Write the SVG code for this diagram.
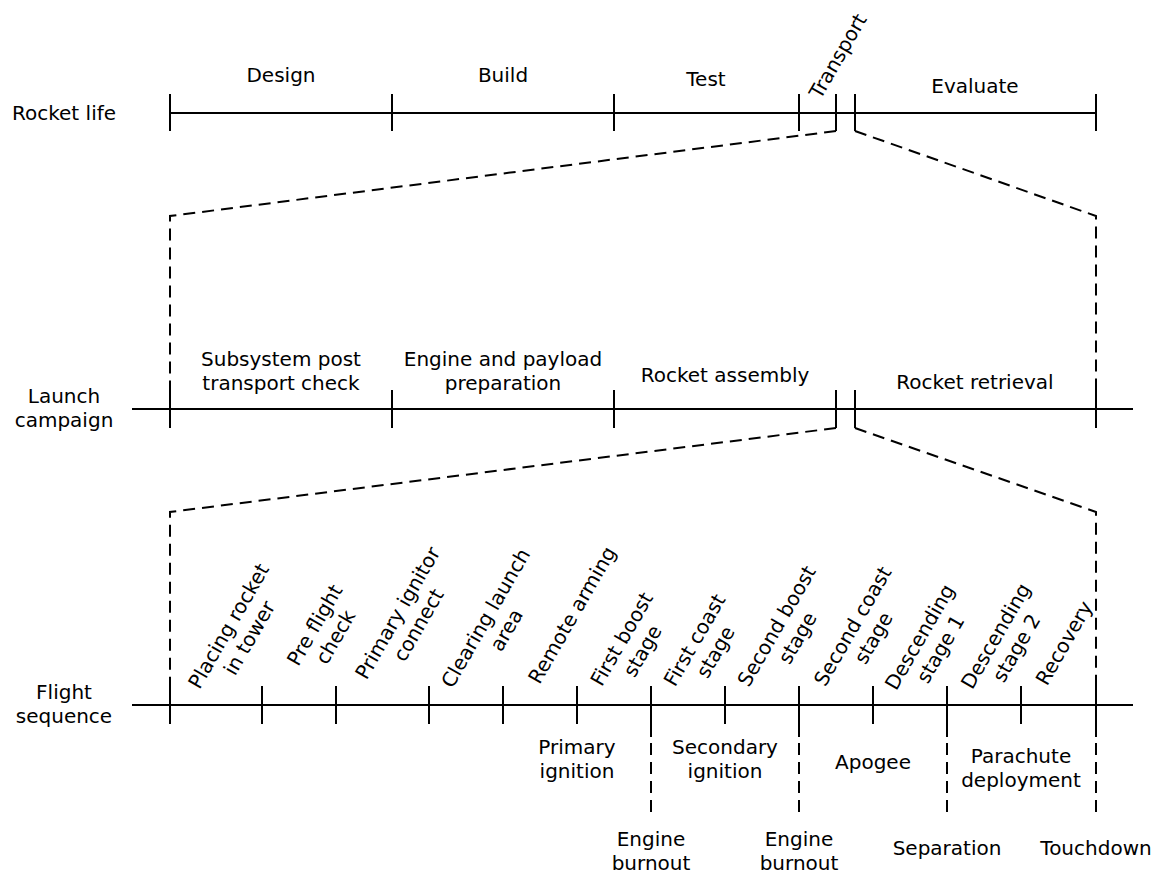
<svg xmlns="http://www.w3.org/2000/svg" width="1162" height="874" viewBox="0 0 1162 874">
<style>
text{font-family:"DejaVu Sans","Liberation Sans",sans-serif;font-size:20px;fill:#000;}
.c{text-anchor:middle;}
.ln{stroke:#000;stroke-width:2;fill:none;}
.dash{stroke:#000;stroke-width:2;fill:none;stroke-dasharray:12 7;}
</style>
<rect width="1162" height="874" fill="#fff"/>
<g id="connectors">
  <line class="ln" x1="170" y1="113" x2="1096" y2="113"/>
  <path class="ln" d="M170 94V131M392 94V131M614 94V131M799 94V131M836 94V131M855 94V131M1096 94V131"/>
  <path class="dash" d="M836 131L170 216V390"/>
  <path class="dash" d="M855 131L1096 216V390"/>
  <line class="ln" x1="132" y1="409" x2="1133" y2="409"/>
  <path class="ln" d="M170 390V428M392 390V428M614 390V428M836 390V428M855 390V428M1096 390V428"/>
  <path class="dash" d="M836 428L170 512V686"/>
  <path class="dash" d="M855 428L1096 512V686"/>
  <line class="ln" x1="132" y1="705" x2="1133" y2="705"/>
  <path class="ln" d="M170 686V724M262 686V724M336 686V724M429 686V724M503 686V724M577 686V724M651 686V724M725 686V724M799 686V724M873 686V724M947 686V724M1021 686V724M1096 686V724"/>
  <path class="ln" d="M651 724V737M799 724V737M947 724V737M1096 724V737"/>
  <path class="dash" d="M651 743V818M799 743V818M947 743V818M1096 743V818"/>
</g>
<g id="row-labels">
  <text x="64" y="120" class="c">Rocket life</text>
  <text class="c"><tspan x="64" y="403">Launch</tspan><tspan x="64" y="427">campaign</tspan></text>
  <text class="c"><tspan x="64" y="699">Flight</tspan><tspan x="64" y="723">sequence</tspan></text>
</g>
<g id="rocket-life">
  <g id="design"><text x="281" y="82" class="c">Design</text></g>
  <g id="build"><text x="503" y="82" class="c">Build</text></g>
  <g id="test"><text x="706" y="86" class="c">Test</text></g>
  <g id="transport"><text class="c" transform="translate(838,56) rotate(-60)" y="7">Transport</text></g>
  <g id="evaluate"><text x="975" y="93" class="c">Evaluate</text></g>
</g>
<g id="launch-campaign">
  <g id="subsystem"><text class="c"><tspan x="281" y="366">Subsystem post</tspan><tspan x="281" y="390">transport check</tspan></text></g>
  <g id="engine-payload"><text class="c"><tspan x="503" y="366">Engine and payload</tspan><tspan x="503" y="390">preparation</tspan></text></g>
  <g id="assembly"><text x="725" y="382" class="c">Rocket assembly</text></g>
  <g id="retrieval"><text x="975" y="389" class="c">Rocket retrieval</text></g>
</g>
<g id="flight-phases">
  <g id="placing"><text class="c" transform="translate(239,632) rotate(-60)"><tspan x="0" y="-5">Placing rocket</tspan><tspan x="0" y="19">in tower</tspan></text></g>
  <g id="preflight"><text class="c" transform="translate(325,631) rotate(-60)"><tspan x="0" y="-5">Pre flight</tspan><tspan x="0" y="19">check</tspan></text></g>
  <g id="ignitor"><text class="c" transform="translate(408,619) rotate(-60)"><tspan x="0" y="-5">Primary ignitor</tspan><tspan x="0" y="19">connect</tspan></text></g>
  <g id="clearing"><text class="c" transform="translate(496,624) rotate(-60)"><tspan x="0" y="-5">Clearing launch</tspan><tspan x="0" y="19">area</tspan></text></g>
  <g id="arming"><text class="c" transform="translate(572,615) rotate(-60)" y="7">Remote arming</text></g>
  <g id="first-boost"><text class="c" transform="translate(632,645) rotate(-60)"><tspan x="0" y="-5">First boost</tspan><tspan x="0" y="19">stage</tspan></text></g>
  <g id="first-coast"><text class="c" transform="translate(705,646) rotate(-60)"><tspan x="0" y="-5">First coast</tspan><tspan x="0" y="19">stage</tspan></text></g>
  <g id="second-boost"><text class="c" transform="translate(787,632) rotate(-60)"><tspan x="0" y="-5">Second boost</tspan><tspan x="0" y="19">stage</tspan></text></g>
  <g id="second-coast"><text class="c" transform="translate(863,632) rotate(-60)"><tspan x="0" y="-5">Second coast</tspan><tspan x="0" y="19">stage</tspan></text></g>
  <g id="descending-1"><text class="c" transform="translate(930,643) rotate(-60)"><tspan x="0" y="-5">Descending</tspan><tspan x="0" y="19">stage 1</tspan></text></g>
  <g id="descending-2"><text class="c" transform="translate(1006,642) rotate(-60)"><tspan x="0" y="-5">Descending</tspan><tspan x="0" y="19">stage 2</tspan></text></g>
  <g id="recovery"><text class="c" transform="translate(1064,643) rotate(-60)" y="7">Recovery</text></g>
</g>
<g id="flight-events">
  <g id="primary-ignition"><text class="c"><tspan x="577" y="754">Primary</tspan><tspan x="577" y="778">ignition</tspan></text></g>
  <g id="secondary-ignition"><text class="c"><tspan x="725" y="754">Secondary</tspan><tspan x="725" y="778">ignition</tspan></text></g>
  <g id="apogee"><text x="873" y="769" class="c">Apogee</text></g>
  <g id="parachute"><text class="c"><tspan x="1021" y="763">Parachute</tspan><tspan x="1021" y="787">deployment</tspan></text></g>
  <g id="burnout-1"><text class="c"><tspan x="651" y="846">Engine</tspan><tspan x="651" y="870">burnout</tspan></text></g>
  <g id="burnout-2"><text class="c"><tspan x="799" y="846">Engine</tspan><tspan x="799" y="870">burnout</tspan></text></g>
  <g id="separation"><text x="947" y="855" class="c">Separation</text></g>
  <g id="touchdown"><text x="1096" y="855" class="c">Touchdown</text></g>
</g>
</svg>
